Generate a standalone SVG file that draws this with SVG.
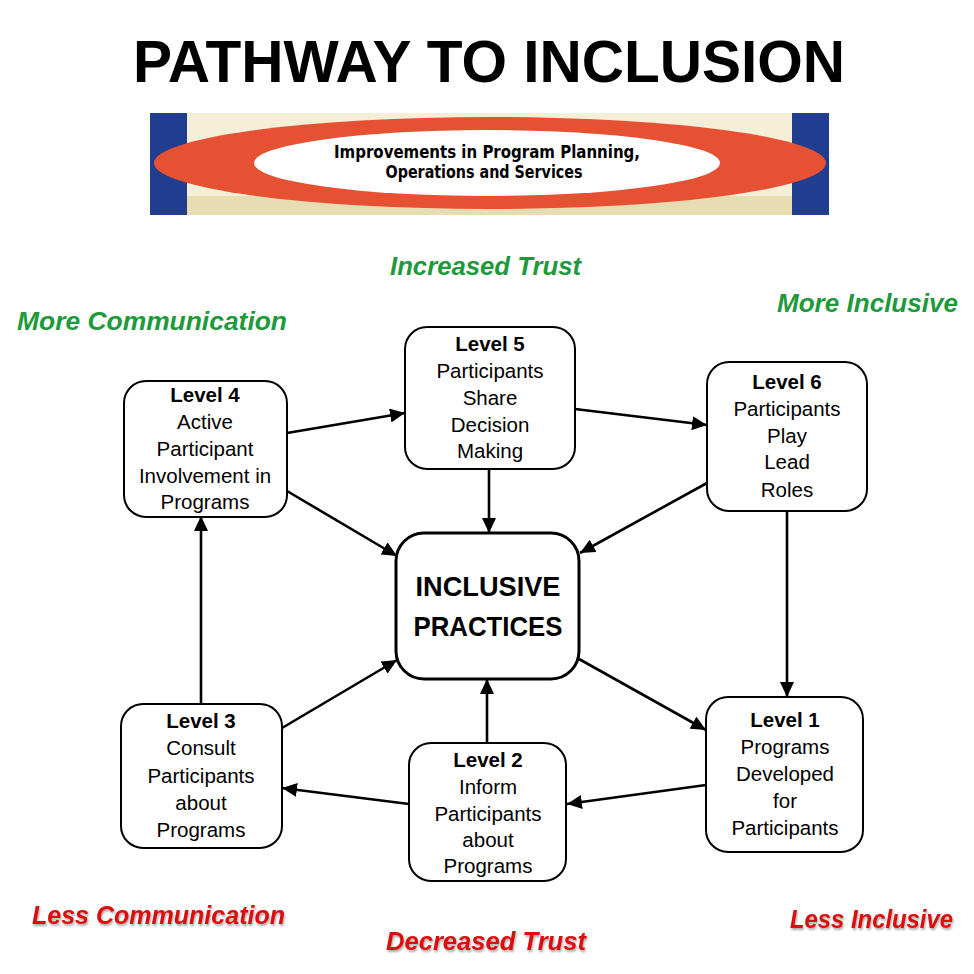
<svg xmlns="http://www.w3.org/2000/svg" width="974" height="974" viewBox="0 0 974 974">
<defs>
<marker id="ah" markerUnits="userSpaceOnUse" markerWidth="16" markerHeight="14" refX="15" refY="7" orient="auto">
<path d="M0,0 L15,7 L0,14 Z" fill="#000"/>
</marker>
<filter id="sh" x="-5%" y="-20%" width="110%" height="140%">
<feGaussianBlur in="SourceAlpha" stdDeviation="1"/>
<feOffset dx="1" dy="1.5" result="b"/>
<feComponentTransfer><feFuncA type="linear" slope="0.35"/></feComponentTransfer>
<feMerge><feMergeNode/><feMergeNode in="SourceGraphic"/></feMerge>
</filter>
</defs>
<style>
.box{fill:#fff;stroke:#000;stroke-width:2}
.t{font-family:"Liberation Sans",Arial,sans-serif;font-size:20.5px;fill:#000;text-anchor:middle}
.b{font-weight:bold}
.g{font-family:"Liberation Sans",Arial,sans-serif;font-weight:bold;font-style:italic;font-size:25px;fill:#1e9a3c}
.r{font-family:"Liberation Sans",Arial,sans-serif;font-weight:bold;font-style:italic;font-size:25px;fill:#dc0a0a}
.c line{stroke:#000;stroke-width:2.6;marker-end:url(#ah)}
</style>
<rect width="974" height="974" fill="#fff"/>
<g id="title">
<text x="489" y="82" font-family="'Liberation Sans',Arial,sans-serif" font-weight="bold" font-size="60" text-anchor="middle" textLength="712" lengthAdjust="spacingAndGlyphs">PATHWAY TO INCLUSION</text>
</g>
<g id="banner">
<rect x="150" y="113" width="679" height="102" fill="#f4efd6"/>
<polygon points="160,215 188,196 791,196 820,215" fill="#e8ddb2"/>
<rect x="150" y="113" width="37" height="102" fill="#213d8f"/>
<rect x="792" y="113" width="37" height="102" fill="#213d8f"/>
<ellipse cx="490" cy="163" rx="336" ry="46" fill="#e65134"/>
<ellipse cx="487" cy="163" rx="233" ry="33" fill="#fff"/>
<text x="487" y="158" font-family="'DejaVu Sans Condensed','DejaVu Sans',sans-serif" font-weight="bold" font-size="17" text-anchor="middle" textLength="306" lengthAdjust="spacingAndGlyphs">Improvements in Program Planning,</text>
<text x="484" y="178" font-family="'DejaVu Sans Condensed','DejaVu Sans',sans-serif" font-weight="bold" font-size="17" text-anchor="middle" textLength="197" lengthAdjust="spacingAndGlyphs">Operations and Services</text>
</g>
<g id="labels">
<text class="g" x="390" y="275" textLength="191" lengthAdjust="spacingAndGlyphs">Increased Trust</text>
<text class="g" x="17" y="330" textLength="270" lengthAdjust="spacingAndGlyphs">More Communication</text>
<text class="g" x="777" y="312" textLength="181" lengthAdjust="spacingAndGlyphs">More Inclusive</text>
<text class="r" x="32" y="924" filter="url(#sh)" textLength="253" lengthAdjust="spacingAndGlyphs">Less Communication</text>
<text class="r" x="386" y="950" filter="url(#sh)" textLength="200" lengthAdjust="spacingAndGlyphs">Decreased Trust</text>
<text class="r" x="790" y="928" filter="url(#sh)" textLength="163" lengthAdjust="spacingAndGlyphs">Less Inclusive</text>
</g>
<g class="c" id="connectors">
<line x1="287" y1="433" x2="405" y2="413"/>
<line x1="575" y1="409" x2="707" y2="425"/>
<line x1="489" y1="469" x2="489" y2="533"/>
<line x1="707" y1="483" x2="580" y2="553"/>
<line x1="287" y1="491" x2="397" y2="556"/>
<line x1="787" y1="511" x2="787" y2="697"/>
<line x1="579" y1="659" x2="706" y2="730"/>
<line x1="706" y1="785" x2="567" y2="804"/>
<line x1="487" y1="743" x2="487" y2="679"/>
<line x1="409" y1="804" x2="282" y2="788"/>
<line x1="282" y1="728" x2="397" y2="660"/>
<line x1="201" y1="704" x2="201" y2="516"/>
</g>
<g id="level4">
<rect class="box" x="124" y="381" width="163" height="136" rx="22"/>
<text class="t b" x="205" y="402">Level 4</text>
<text class="t" x="205" y="429">Active</text>
<text class="t" x="205" y="456">Participant</text>
<text class="t" x="205" y="483">Involvement in</text>
<text class="t" x="205" y="509">Programs</text>
</g>
<g id="level5">
<rect class="box" x="405" y="327" width="170" height="142" rx="22"/>
<text class="t b" x="490" y="351">Level 5</text>
<text class="t" x="490" y="378">Participants</text>
<text class="t" x="490" y="405">Share</text>
<text class="t" x="490" y="432">Decision</text>
<text class="t" x="490" y="458">Making</text>
</g>
<g id="level6">
<rect class="box" x="707" y="362" width="160" height="149" rx="22"/>
<text class="t b" x="787" y="389">Level 6</text>
<text class="t" x="787" y="416">Participants</text>
<text class="t" x="787" y="443">Play</text>
<text class="t" x="787" y="469">Lead</text>
<text class="t" x="787" y="497">Roles</text>
</g>
<g id="center">
<rect x="396" y="533" width="183" height="146" rx="28" fill="#fff" stroke="#000" stroke-width="3"/>
<text x="488" y="596" font-family="'Liberation Sans',Arial,sans-serif" font-weight="bold" font-size="28" text-anchor="middle" textLength="145" lengthAdjust="spacingAndGlyphs">INCLUSIVE</text>
<text x="488" y="636" font-family="'Liberation Sans',Arial,sans-serif" font-weight="bold" font-size="28" text-anchor="middle" textLength="149" lengthAdjust="spacingAndGlyphs">PRACTICES</text>
</g>
<g id="level1">
<rect class="box" x="706" y="697" width="157" height="155" rx="22"/>
<text class="t b" x="785" y="727">Level 1</text>
<text class="t" x="785" y="754">Programs</text>
<text class="t" x="785" y="781">Developed</text>
<text class="t" x="785" y="808">for</text>
<text class="t" x="785" y="835">Participants</text>
</g>
<g id="level2">
<rect class="box" x="409" y="743" width="157" height="138" rx="22"/>
<text class="t b" x="488" y="767">Level 2</text>
<text class="t" x="488" y="794">Inform</text>
<text class="t" x="488" y="821">Participants</text>
<text class="t" x="488" y="847">about</text>
<text class="t" x="488" y="873">Programs</text>
</g>
<g id="level3">
<rect class="box" x="121" y="704" width="161" height="144" rx="22"/>
<text class="t b" x="201" y="728">Level 3</text>
<text class="t" x="201" y="755">Consult</text>
<text class="t" x="201" y="783">Participants</text>
<text class="t" x="201" y="810">about</text>
<text class="t" x="201" y="837">Programs</text>
</g>
</svg>
